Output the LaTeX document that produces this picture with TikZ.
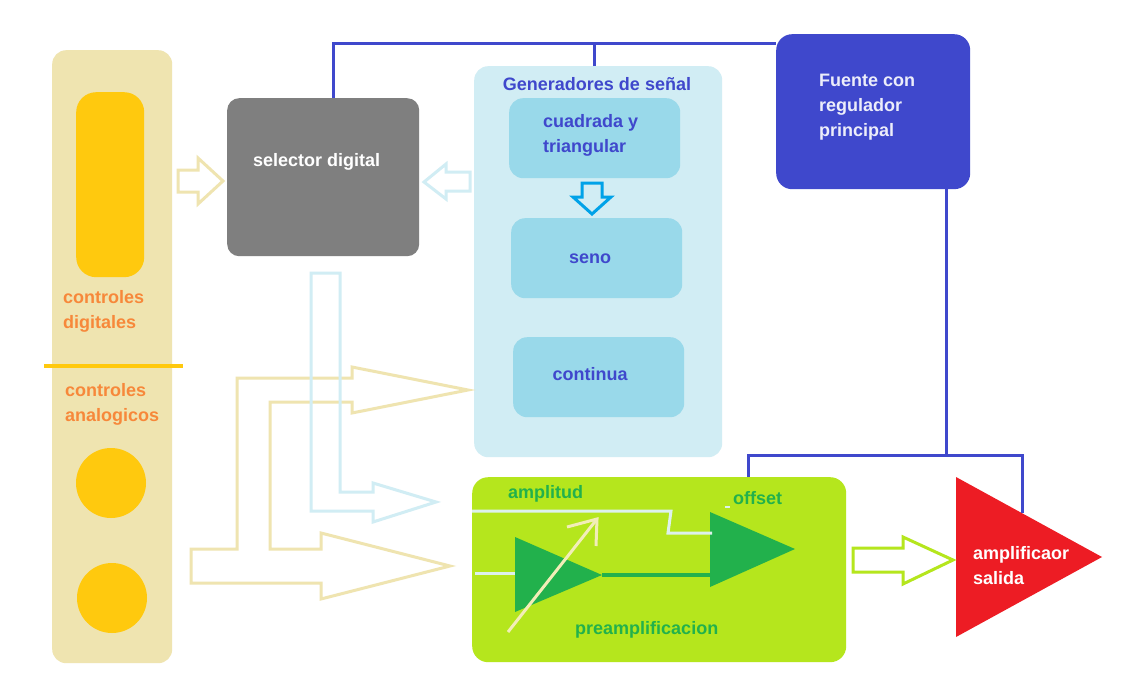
\documentclass[tikz,border=0pt]{standalone}
\usepackage{fontspec}
\setmainfont{Liberation Sans}
\usetikzlibrary{positioning}
\definecolor{beige}{HTML}{EFE4B0}
\definecolor{amarillo}{HTML}{FFC90E}
\definecolor{naranja}{HTML}{F7883A}
\definecolor{gris}{HTML}{7F7F7F}
\definecolor{celeste}{HTML}{D1EDF4}
\definecolor{turquesa}{HTML}{99D9EA}
\definecolor{azul}{HTML}{3F48CC}
\definecolor{lima}{HTML}{B5E61D}
\definecolor{verde}{HTML}{22B14C}
\definecolor{rojo}{HTML}{ED1C24}
\definecolor{cielo}{HTML}{00A2E8}
\definecolor{palido}{HTML}{DDF1EC}
\definecolor{crema}{HTML}{F2EDB8}

\begin{document}
\begin{tikzpicture}[x=1pt,y=-1pt]
                        \tikzstyle{caja}=[rectangle, rounded corners=14pt, inner sep=0pt, anchor=north west]
                        \tikzstyle{texto}=[font=\bfseries\fontsize{18}{25}\selectfont, align=left, inner sep=0pt]
                        \tikzstyle{cable}=[draw=azul, line width=3pt]
                        \tikzstyle{hueca}=[line width=3pt, line join=miter]
                        \tikzstyle{perilla}=[circle, fill=amarillo, minimum size=70pt, inner sep=0pt]
                        \fill[white] (0,0) rectangle (1132,688);
                        \useasboundingbox (0,0) rectangle (1132,688);

                        \node[caja, fill=beige, minimum width=120pt, minimum height=613pt] (controles) at (52,50) {};
                        \node[caja, fill=amarillo, rounded corners=20pt, minimum width=68pt, minimum height=185pt] (digitales) at (76,92) {};
                        \node[perilla] (perilla1) at (111,483) {};
                        \node[perilla] (perilla2) at (112,598) {};
                        \draw[amarillo, line width=4pt] (44,366) -- (183,366);
                        \node[texto, naranja, anchor=west] (txtdig) at (63,311) {controles\\digitales};
                        \node[texto, naranja, anchor=west] (txtana) at (65,404) {controles\\analogicos};

                        \node[caja, fill=gris, rounded corners=12pt, minimum width=192pt, minimum height=158pt] (selector) at (227,98) {};
                        \node[texto, white, anchor=west] (txtsel) at (253,162) {selector digital};

                        \node[caja, fill=celeste, minimum width=248pt, minimum height=391pt] (generadores) at (474,66) {};
                        \node[texto, azul] (txtgen) at (597,84) {Generadores de señal};
                        \node[caja, fill=turquesa, minimum width=171pt, minimum height=80pt] (cuadrada) at (509,98) {};
                        \node[texto, azul, anchor=west] (txtcua) at (543,135) {cuadrada y\\triangular};
                        \node[caja, fill=turquesa, minimum width=171pt, minimum height=80pt] (seno) at (511,218) {};
                        \node[texto, azul] (txtsen) at (590,259) {seno};
                        \node[caja, fill=turquesa, minimum width=171pt, minimum height=80pt] (continua) at (513,337) {};
                        \node[texto, azul] (txtcon) at (590,374) {continua};

                        \node[caja, fill=azul, rounded corners=16pt, minimum width=194pt, minimum height=155pt] (fuente) at (776,34) {};
                        \node[texto, white!90!azul, anchor=west] (txtfue) at (819,107) {Fuente con\\regulador\\principal};

                        \node[caja, fill=lima, rounded corners=16pt, minimum width=374pt, minimum height=185pt] (preamp) at (472,477) {};
                        \node[texto, verde, anchor=west] (txtamp) at (508,494) {amplitud};
                        \node[texto, verde, anchor=west] (txtoff) at (733,498) {offset};
                        \node[texto, verde, anchor=west] (txtpre) at (575,630) {preamplificacion};

                        \fill[rojo] (956,477) -- (1102,557) -- (956,637) -- cycle;
                        \coordinate (rojo) at (1022,513);
                        \node[texto, white, anchor=west] (txtroj) at (973,566) {amplificaor\\salida};

                        \draw[cable] ([xshift=106pt]selector.north west) |- ([yshift=-9pt]fuente.north west);
                        \draw[cable] ([xshift=-4pt]generadores.north) -- ++(0,-23);
                        \coordinate (nodo) at (946,455);
                        \draw[cable] (fuente.south east -| nodo) -- (nodo);
                        \draw[cable] ([xshift=276pt]preamp.north west) |- (nodo) -| (rojo);

                        \draw[hueca, beige] (178,170) -- (198,170) -- (198,158) -- (223,181) -- (198,204) -- (198,192) -- (178,192) -- cycle;
                        \draw[hueca, celeste] (470,172) -- (446,172) -- (446,164) -- (424,182) -- (446,199) -- (446,191) -- (470,191) -- cycle;
                        \draw[hueca, cielo] (582,183) -- (602,183) -- (602,197) -- (611,197) -- (592,214) -- (573,197) -- (582,197) -- cycle;
                        \draw[hueca, lima] (853,548) -- (903,548) -- (903,537) -- (953,560) -- (903,584) -- (903,572) -- (853,572) -- cycle;
                        \draw[hueca, beige] (191,549) -- (237,549) -- (237,378) -- (352,378) -- (352,367) -- (468,390) -- (352,413) -- (352,402)
                            -- (270,402) -- (270,549) -- (321,549) -- (321,533) -- (450,566) -- (321,599) -- (321,583) -- (191,583) -- cycle;
                        \draw[hueca, celeste] (311,273) -- (340,273) -- (340,492) -- (373,492) -- (373,483) -- (436,502) -- (373,522) -- (373,511) -- (311,511) -- cycle;

                        \coordinate (a1in) at (515,573);
                        \coordinate (a1out) at (602,575);
                        \coordinate (a2in) at (710,575);
                        \fill[verde] (515,537) -- (a1out) -- (515,612) -- cycle;
                        \fill[verde] (710,512) -- (795,549) -- (710,587) -- cycle;
                        \draw[verde, line width=4pt] (a1out) -- (a2in);
                        \draw[palido, line width=3pt] (472,511) -- (671,511) -- (668,533) -- (712,533);
                        \draw[palido, line width=3pt] (475,573) -- (a1in);
                        \draw[palido, line width=2pt] (725,507) -- (730,507);
                        \draw[crema, line width=3pt] (508,632) -- (597,519);
                        \draw[crema, line width=3pt] (567,527) -- (597,519) -- (596,546);
                    \end{tikzpicture}
\end{document}
